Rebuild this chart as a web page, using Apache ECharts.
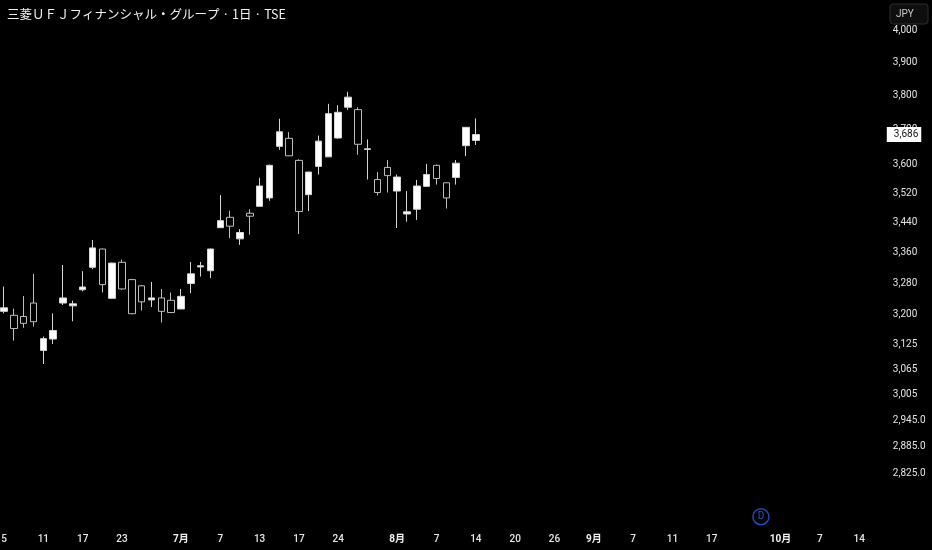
<!DOCTYPE html>
<html><head><meta charset="utf-8">
<style>html,body{margin:0;padding:0;background:#000}#c{width:932px;height:550px}</style>
<script src="https://cdn.jsdelivr.net/npm/echarts@6/dist/echarts.min.js"></script>
</head><body><div id="c"></div>
<script>
// [open, close, low, high]
const candles = [
[3208,3217,3203,3271],[3198,3165,3135,3215],[3195,3178,3167,3247],[3229,3182,3170,3304],
[3111,3140,3078,3145],[3139,3160,3127,3203],[3229,3242,3224,3327],[3222,3227,3183,3235],
[3263,3270,3259,3311],[3321,3372,3316,3393],[3369,3276,3256,3370],[3241,3332,3240,3333],
[3334,3265,3263,3341],[3289,3202,3201,3291],[3273,3232,3210,3275],[3237,3242,3219,3283],
[3242,3208,3180,3265],[3236,3205,3205,3256],[3214,3246,3214,3265],[3279,3304,3254,3335],
[3322,3325,3297,3335],[3312,3369,3293,3370],[3426,3445,3426,3515],[3454,3430,3398,3472],
[3396,3413,3380,3422],[3465,3457,3407,3476],[3484,3540,3484,3563],[3507,3598,3499,3600],
[3652,3694,3642,3732],[3675,3625,3624,3693],[3612,3470,3409,3615],[3516,3579,3471,3580],
[3595,3667,3572,3683],[3622,3747,3622,3776],[3676,3751,3674,3772],[3766,3796,3758,3812],
[3759,3658,3628,3766],[3643,3645,3558,3672],[3558,3522,3514,3579],[3592,3569,3522,3613],
[3526,3565,3425,3572],[3463,3469,3442,3526],[3476,3540,3447,3557],[3539,3572,3539,3602],
[3598,3561,3544,3600],[3549,3507,3478,3550],[3564,3604,3544,3613],[3654,3707,3624,3708],
[3669,3686,3656,3733]
];
const priceTicks = [4000,3900,3800,3700,3600,3520,3440,3360,3280,3200,3125,3065,3005,2945,2885,2825];
const dateTickSlots = [0,4,8,12,18,22,26,30,34,40,44,48,52,56,60,64,68,72,79,83,87];
const dateTickLabels = ['5','11','17','23','7月','7','13','17','24','8月','7','14','20','26','9月','7','11','17','10月','7','14'];
const slotCount = 90;
const lastPrice = 3686;
const dividendSlot = 77;
const dividendLevel = 2730;
const titleText = '三菱ＵＦＪフィナンシャル・グループ · 1日 · TSE';

const categories = Array.from({length:slotCount},(_,i)=>String(i));
const fmtPrice = v => {
  const s = Math.round(v).toLocaleString('en-US');
  return v < 3000 ? s + '.0' : s;
};
const chart = echarts.init(document.getElementById('c'),null,{renderer:'canvas'});
chart.setOption({
  backgroundColor:'#000',
  animation:false,
  title:{text:titleText,left:7,top:8,padding:0,textStyle:{color:'#f0f0f0',fontSize:12.5,fontWeight:'normal',fontFamily:'"Noto Sans CJK JP"'}},
  grid:{left:-0.9,top:0,width:884.7,height:520,outerBoundsMode:'none'},
  xAxis:{type:'category',data:categories,boundaryGap:true,
    axisLine:{show:false},axisTick:{show:false},splitLine:{show:false},
    axisLabel:{interval:0,margin:14,hideOverlap:false,color:'#e6e6e6',fontSize:10,fontWeight:500,fontFamily:'Roboto',
      formatter:(v,i)=>{const k=dateTickSlots.indexOf(+v);if(k<0)return '';const t=dateTickLabels[k];return t.includes('月')?'{b|'+t+'}':t;},
      rich:{b:{fontWeight:'bold',color:'#f0f0f0',fontSize:10,fontFamily:'Roboto,"Noto Sans CJK JP"'}}}},
  yAxis:{type:'log',logBase:10,position:'right',min:2723,max:4097,scale:true,
    axisLine:{show:false},axisTick:{show:false},splitLine:{show:false},minorTick:{show:false},minorSplitLine:{show:false},
    axisLabel:{customValues:priceTicks,margin:9,color:'#e4e4e4',fontSize:10,padding:[2,0,0,0],fontFamily:'Roboto',
      showMinLabel:true,showMaxLabel:true,formatter:fmtPrice}},
  series:[{type:'candlestick',data:candles,barWidth:7,
    itemStyle:{color:'#fff',color0:'#000',borderColor:'#d4d4d4',borderColor0:'#bcbcbc',borderWidth:1},
    markLine:{silent:true,symbol:'none',animation:false,z:20,lineStyle:{color:'rgba(0,0,0,0)',width:1},
      data:[{yAxis:lastPrice}],
      label:{show:true,position:'end',distance:3,formatter:()=>fmtPrice(lastPrice),backgroundColor:'#fff',color:'#111',fontSize:10,
        fontFamily:'Roboto',padding:[3,3,2,7]}},
    markPoint:{silent:true,animation:false,symbol:'circle',symbolSize:16,
      itemStyle:{color:'#000',borderColor:'#2149bd',borderWidth:1.5},
      data:[{coord:[String(dividendSlot),dividendLevel]}],
      label:{show:true,position:'inside',formatter:'D',color:'#2a56c8',fontSize:10,fontFamily:'Roboto'}}
  }],
  graphic:[
    {type:'rect',left:889.5,top:3.5,shape:{width:38,height:20,r:3},style:{fill:'#0e0e0e',stroke:'#2c2c2c',lineWidth:1}},
    {type:'text',left:896,top:9,style:{text:'JPY',fill:'#c8c8c8',fontSize:10,fontFamily:'Roboto'}}
  ]
});
</script></body></html>
